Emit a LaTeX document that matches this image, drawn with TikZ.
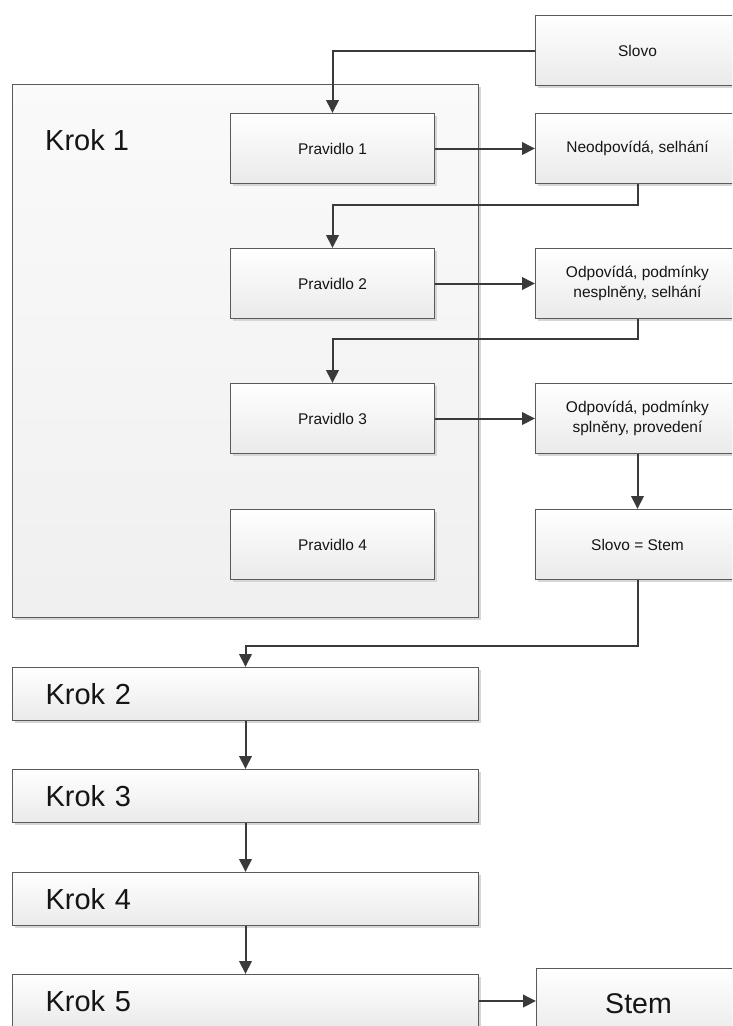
\documentclass[tikz,border=0pt]{standalone}
\usepackage{fontspec}
\setmainfont{Liberation Sans}
\usetikzlibrary{arrows.meta,shadows}
\definecolor{boxline}{HTML}{5A5A5A}
\definecolor{boxbottom}{HTML}{EAEAEA}
\definecolor{connline}{HTML}{3A3A3A}
\definecolor{txt}{HTML}{151515}
\tikzset{
  shaded box/.style={draw=boxline, line width=1pt, top color=white, bottom color=boxbottom,
    inner sep=0pt, anchor=north west, text=txt,
    drop shadow={shadow xshift=2.5pt, shadow yshift=-2.5pt, fill=black!16, opacity=1}},
  rulebox/.style={shaded box, minimum width=204pt, minimum height=70pt, align=center,
    font=\fontsize{15.5}{19.5}\selectfont},
  stepbox/.style={shaded box, minimum width=466pt, minimum height=53pt,
    inner xsep=33pt, text width=400pt, align=left, font=\fontsize{29}{34}\selectfont},
  groupbox/.style={shaded box, top color=white!98!black, bottom color=black!6,
    minimum width=466pt, minimum height=533pt},
  conn/.style={draw=connline, line width=2pt, -{Triangle[length=13pt,width=12.5pt]}}
}
\begin{document}
\begin{tikzpicture}[x=1pt,y=-1pt]
\useasboundingbox (0,0) rectangle (732,1026);
\clip (0,0) rectangle (732,1026);

% step 1 container
\node[groupbox] (krok1) at (12,84) {};
\node[anchor=west, font=\fontsize{29}{34}\selectfont, text=txt, inner sep=0pt] (krok1lbl) at (45,140) {Krok 1};

% rules inside step 1
\node[rulebox] (p1) at (230,113) {Pravidlo 1};
\node[rulebox] (p2) at (230,248) {Pravidlo 2};
\node[rulebox] (p3) at (230,383) {Pravidlo 3};
\node[rulebox] (p4) at (230,509) {Pravidlo 4};

% outcome column on the right
\node[rulebox] (slovo) at (535,15) {Slovo};
\node[rulebox] (n1) at (535,113) {Neodpovídá, selhání};
\node[rulebox] (n2) at (535,248) {Odpovídá, podmínky\\nesplněny, selhání};
\node[rulebox] (n3) at (535,383) {Odpovídá, podmínky\\splněny, provedení};
\node[rulebox] (n4) at (535,509) {Slovo = Stem};

% remaining steps
\node[stepbox] (k2) at (12,667) {Krok 2};
\node[stepbox] (k3) at (12,769) {Krok 3};
\node[stepbox] (k4) at (12,872) {Krok 4};
\node[stepbox] (k5) at (12,974) {Krok 5};
\node[rulebox, font=\fontsize{28.5}{34}\selectfont] (stem) at (536,968) {Stem};

% connectors
\draw[conn] (slovo.west) -| (p1.north);
\draw[conn] (p1.east) -- (n1.west);
\draw[conn] (n1.south) -- ++(0,21) -| (p2.north);
\draw[conn] (p2.east) -- (n2.west);
\draw[conn] (n2.south) -- ++(0,20) -| (p3.north);
\draw[conn] (p3.east) -- (n3.west);
\draw[conn] (n3.south) -- (n4.north);
\draw[conn] (n4.south) -- ++(0,66) -| (k2.north);
\draw[conn] (k2.south) -- (k3.north);
\draw[conn] (k3.south) -- (k4.north);
\draw[conn] (k4.south) -- (k5.north);
\draw[conn] (k5.east) -- (k5.east -| stem.west);
\end{tikzpicture}
\end{document}
